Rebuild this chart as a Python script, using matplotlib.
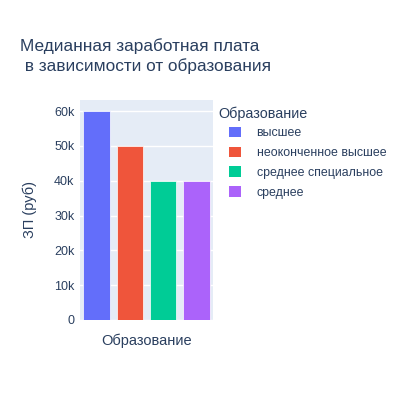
import numpy as np
import matplotlib.pyplot as plt
from matplotlib.ticker import FuncFormatter

plt.rcParams['font.family'] = ['Liberation Sans', 'DejaVu Sans']

categories = ['высшее', 'неоконченное высшее', 'среднее специальное', 'среднее']
salaries = [60000, 50000, 40000, 40000]
colors = ['#636efa', '#EF553B', '#00cc96', '#ab63fa']
yticks = [0, 10000, 20000, 30000, 40000, 50000, 60000]

text_color = '#2a3f5f'

fig = plt.figure(figsize=(4, 4), dpi=100)
ax = fig.add_axes([0.2, 0.2, 0.3325, 0.55])
ax.set_facecolor('#E5ECF6')

x = np.arange(len(categories))
for xi, val, col, cat in zip(x, salaries, colors, categories):
    ax.bar(xi, val, width=0.8, color=col, edgecolor='white', linewidth=0.5,
           label=cat, zorder=2)

ax.set_xlim(-0.5, len(categories) - 0.5)
ax.set_ylim(0, max(salaries) * 1.053)
ax.set_xticks([])
ax.set_yticks(yticks)
ax.yaxis.set_major_formatter(FuncFormatter(lambda v, p: '0' if v == 0 else f'{int(v / 1000)}k'))
ax.grid(axis='y', color='white', linewidth=1, zorder=0)
ax.tick_params(axis='y', length=0, labelsize=9, labelcolor=text_color, pad=4)
for s in ax.spines.values():
    s.set_visible(False)

ax.set_xlabel('Образование', fontsize=10.5, color=text_color, labelpad=10)
ax.set_ylabel('ЗП (руб)', fontsize=10.5, color=text_color, labelpad=12)

fig.text(0.05, 0.86, 'Медианная заработная плата\n в зависимости от образования',
         fontsize=12.4, color=text_color, va='center', ha='left', linespacing=1.3)

fig.text(0.546, 0.715, 'Образование', fontsize=10.4, color=text_color,
         va='center', ha='left')
leg = ax.legend(loc='upper left', bbox_to_anchor=(0.572, 0.683),
                bbox_transform=fig.transFigure, frameon=False,
                fontsize=8.9, handlelength=0.95, handleheight=0.95,
                handletextpad=1.3, labelspacing=0.58, borderaxespad=0, borderpad=0)
for t in leg.get_texts():
    t.set_color(text_color)
for h in leg.legend_handles:
    h.set_linewidth(0)

fig.savefig('out.png', dpi=100)
